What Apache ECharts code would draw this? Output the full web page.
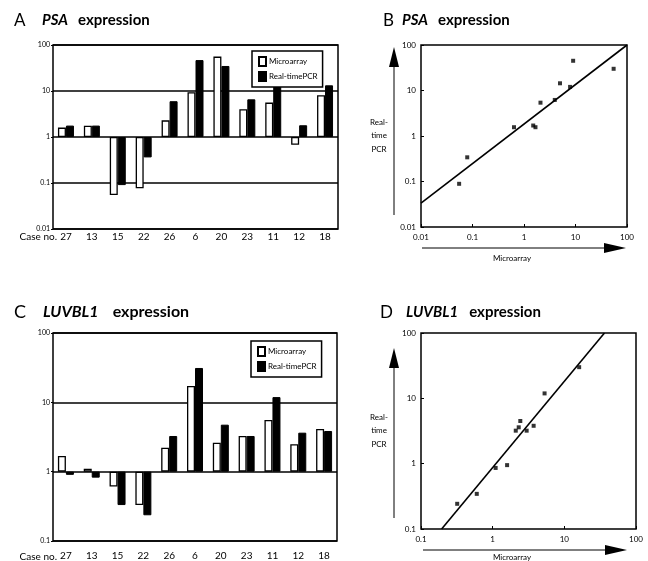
<!DOCTYPE html>
<html>
<head>
<meta charset="utf-8">
<script src="https://cdn.jsdelivr.net/npm/echarts@6/dist/echarts.min.js"></script>
<style>
html,body{margin:0;padding:0;background:#fff}
#main{width:648px;height:561px}
</style>
</head>
<body>
<div id="main"></div>
<script>
var cases = ['27','13','15','22','26','6','20','23','11','12','18'];
// PSA fold change, panel A
var psaMicro = [1.6,1.75,0.055,0.077,2.3,9.4,56,4.0,5.6,0.68,8.1];
var psaPcr = [1.77,1.77,0.09,0.36,6.0,47,35,6.6,15,1.8,13.3];
// LUVBL1 fold change, panel C
var luvMicro = [1.68,1.1,0.61,0.33,2.22,17.2,2.62,3.27,5.56,2.48,4.12];
var luvPcr = [0.9,0.82,0.33,0.235,3.27,31.3,4.76,3.27,11.9,3.65,3.86];
// scatter points [microarray, real-time PCR]
var psaPoints = [[0.055,0.089],[0.079,0.34],[0.64,1.56],[1.51,1.7],[1.67,1.56],[2.09,5.4],[3.96,6.2],[5.0,14.4],[7.85,12.0],[9.0,45],[55,30]];
var luvPoints = [[0.32,0.243],[0.6,0.345],[1.1,0.86],[1.59,0.95],[2.1,3.2],[2.31,3.6],[2.43,4.5],[2.98,3.2],[3.73,3.8],[5.3,11.9],[16.1,30]];
// regression lines (end points)
var psaFit = [[0.01,0.0336],[100,100]];
var luvFit = [[0.194,0.1],[36.3,100]];
var seriesNames = ['Microarray','Real-timePCR'];

var font = 'Lato, "DejaVu Sans", sans-serif';
var myChart = echarts.init(document.getElementById('main'));

function logLabel(v){
	return String(+Number(v).toPrecision(3));
}

function titleOf(left, top, letter, letterW, gene, geneGap, size){
	return {
		left: left, top: top, padding: 0,
		text: '{l|' + letter + '}{g|' + gene + '}{e|expression}',
		textStyle: {
			rich: {
				l: {fontFamily: font, fontSize: size + 2, fontWeight: 'normal', color: '#000', width: letterW},
				g: {fontFamily: font, fontSize: size, fontWeight: 'bold', fontStyle: 'italic', color: '#000', padding: [0, geneGap, 0, 0]},
				e: {fontFamily: font, fontSize: size, fontWeight: 'bold', color: '#000'}
			}
		}
	};
}

function barYAxis(idx, min){
	return {
		type: 'log', logBase: 10, gridIndex: idx, min: min, max: 100,
		axisLine: {show: false},
		axisTick: {show: true, length: 2, lineStyle: {color: '#000'}},
		axisLabel: {fontFamily: font, fontSize: 7, color: '#000', margin: 3, formatter: logLabel},
		splitLine: {show: true, lineStyle: {color: '#000', width: 1.5}}
	};
}

function barXAxis(idx, margin){
	return {
		type: 'category', gridIndex: idx, data: cases,
		axisLine: {show: false}, axisTick: {show: false},
		axisLabel: {fontFamily: font, fontSize: 10, color: '#000', margin: margin, interval: 0},
		splitLine: {show: false}
	};
}

function logAxis(idx, min, isY){
	return {
		type: 'log', logBase: 10, gridIndex: idx, min: min, max: 100,
		axisLine: {show: false},
		axisTick: {show: true, inside: true, length: 3, lineStyle: {color: '#000'}},
		axisLabel: {fontFamily: font, fontSize: 8, color: '#000', margin: isY ? 5 : 6, formatter: logLabel},
		splitLine: {show: false}
	};
}

function legendAt(left, top){
	return {
		left: left, top: top, orient: 'vertical', data: seriesNames, icon: 'rect',
		itemWidth: 7, itemHeight: 9, itemGap: 4, padding: [5, 5, 5, 6],
		borderColor: '#000', borderWidth: 1.5, backgroundColor: '#fff',
		selectedMode: false,
		textStyle: {fontFamily: font, fontSize: 8, color: '#000', padding: [0, 0, 0, -2]}
	};
}

function barSeries(idx, micro, pcr){
	return [{
		name: seriesNames[0], type: 'bar', xAxisIndex: idx, yAxisIndex: idx,
		data: micro, barWidth: 8, barGap: '0%',
		itemStyle: {color: '#fff', borderColor: '#000', borderWidth: 1.3}
	}, {
		name: seriesNames[1], type: 'bar', xAxisIndex: idx, yAxisIndex: idx,
		data: pcr, barWidth: 8, barGap: '0%',
		itemStyle: {color: '#000', borderColor: '#000', borderWidth: 1}
	}];
}

function scatterSeries(idx, points, fit){
	return [{
		name: 'points' + idx, type: 'scatter', xAxisIndex: idx, yAxisIndex: idx,
		data: points, symbol: 'rect', symbolSize: 4,
		itemStyle: {color: '#000'}
	}, {
		name: 'fit' + idx, type: 'line', xAxisIndex: idx, yAxisIndex: idx,
		data: fit, symbol: 'none', silent: true,
		lineStyle: {color: '#000', width: 1.6}
	}];
}

function sideText(x, y, text){
	return {
		type: 'text', x: x, y: y, silent: true,
		style: {text: text, fill: '#000', font: '8px ' + font, align: 'center', verticalAlign: 'middle', lineHeight: 13.5}
	};
}

function arrowUp(x, yTip, yBottom){
	return [{
		type: 'line', silent: true,
		shape: {x1: x, y1: yBottom, x2: x, y2: yTip + 18},
		style: {stroke: '#000', lineWidth: 1}
	}, {
		type: 'polygon', silent: true,
		shape: {points: [[x, yTip], [x - 5, yTip + 20], [x + 5, yTip + 20]]},
		style: {fill: '#000'}
	}];
}

function arrowRight(y, xStart, xTip){
	return [{
		type: 'line', silent: true,
		shape: {x1: xStart, y1: y, x2: xTip - 20, y2: y},
		style: {stroke: '#000', lineWidth: 1}
	}, {
		type: 'polygon', silent: true,
		shape: {points: [[xTip, y], [xTip - 22, y - 5], [xTip - 22, y + 5]]},
		style: {fill: '#000'}
	}];
}

var grids = [
	{left: 53, top: 45, width: 285, height: 184},
	{left: 421, top: 45, width: 206, height: 182},
	{left: 53, top: 333, width: 284, height: 209},
	{left: 421, top: 333, width: 215, height: 196}
];
for (var i = 0; i < grids.length; i++){
	grids[i].show = true;
	grids[i].borderColor = '#000';
	grids[i].borderWidth = 1.5;
	grids[i].backgroundColor = 'transparent';
}

var option = {
	animation: false,
	backgroundColor: '#fff',
	title: [
		titleOf(14, 12, 'A', 28, 'PSA', 10, 15),
		titleOf(383, 12, 'B', 19, 'PSA', 10, 15),
		titleOf(14, 303, 'C', 29, 'LUVBL1', 14, 16),
		titleOf(380, 304, 'D', 26, 'LUVBL1', 11, 15)
	],
	legend: [legendAt(252, 51), legendAt(251, 341)],
	grid: grids,
	xAxis: [barXAxis(0, 3), logAxis(1, 0.01, false), barXAxis(2, 10), logAxis(3, 0.1, false)],
	yAxis: [barYAxis(0, 0.01), logAxis(1, 0.01, true), barYAxis(2, 0.1), logAxis(3, 0.1, true)],
	series: [].concat(
		barSeries(0, psaMicro, psaPcr),
		scatterSeries(1, psaPoints, psaFit),
		barSeries(2, luvMicro, luvPcr),
		scatterSeries(3, luvPoints, luvFit)
	),
	graphic: [].concat(
		[{type: 'text', x: 57, y: 237, silent: true, style: {text: 'Case no.', fill: '#000', font: '10px ' + font, align: 'right', verticalAlign: 'middle'}},
		 {type: 'text', x: 57, y: 557, silent: true, style: {text: 'Case no.', fill: '#000', font: '10px ' + font, align: 'right', verticalAlign: 'middle'}},
		 sideText(379, 135.5, 'Real-\ntime\nPCR'),
		 sideText(379, 430.5, 'Real-\ntime\nPCR'),
		 sideText(512, 258, 'Microarray'),
		 sideText(512, 557, 'Microarray')],
		arrowUp(394, 47, 215),
		arrowRight(248, 422, 626),
		arrowUp(394, 348, 518),
		arrowRight(550, 423, 627)
	)
};

myChart.setOption(option);
</script>
</body>
</html>
